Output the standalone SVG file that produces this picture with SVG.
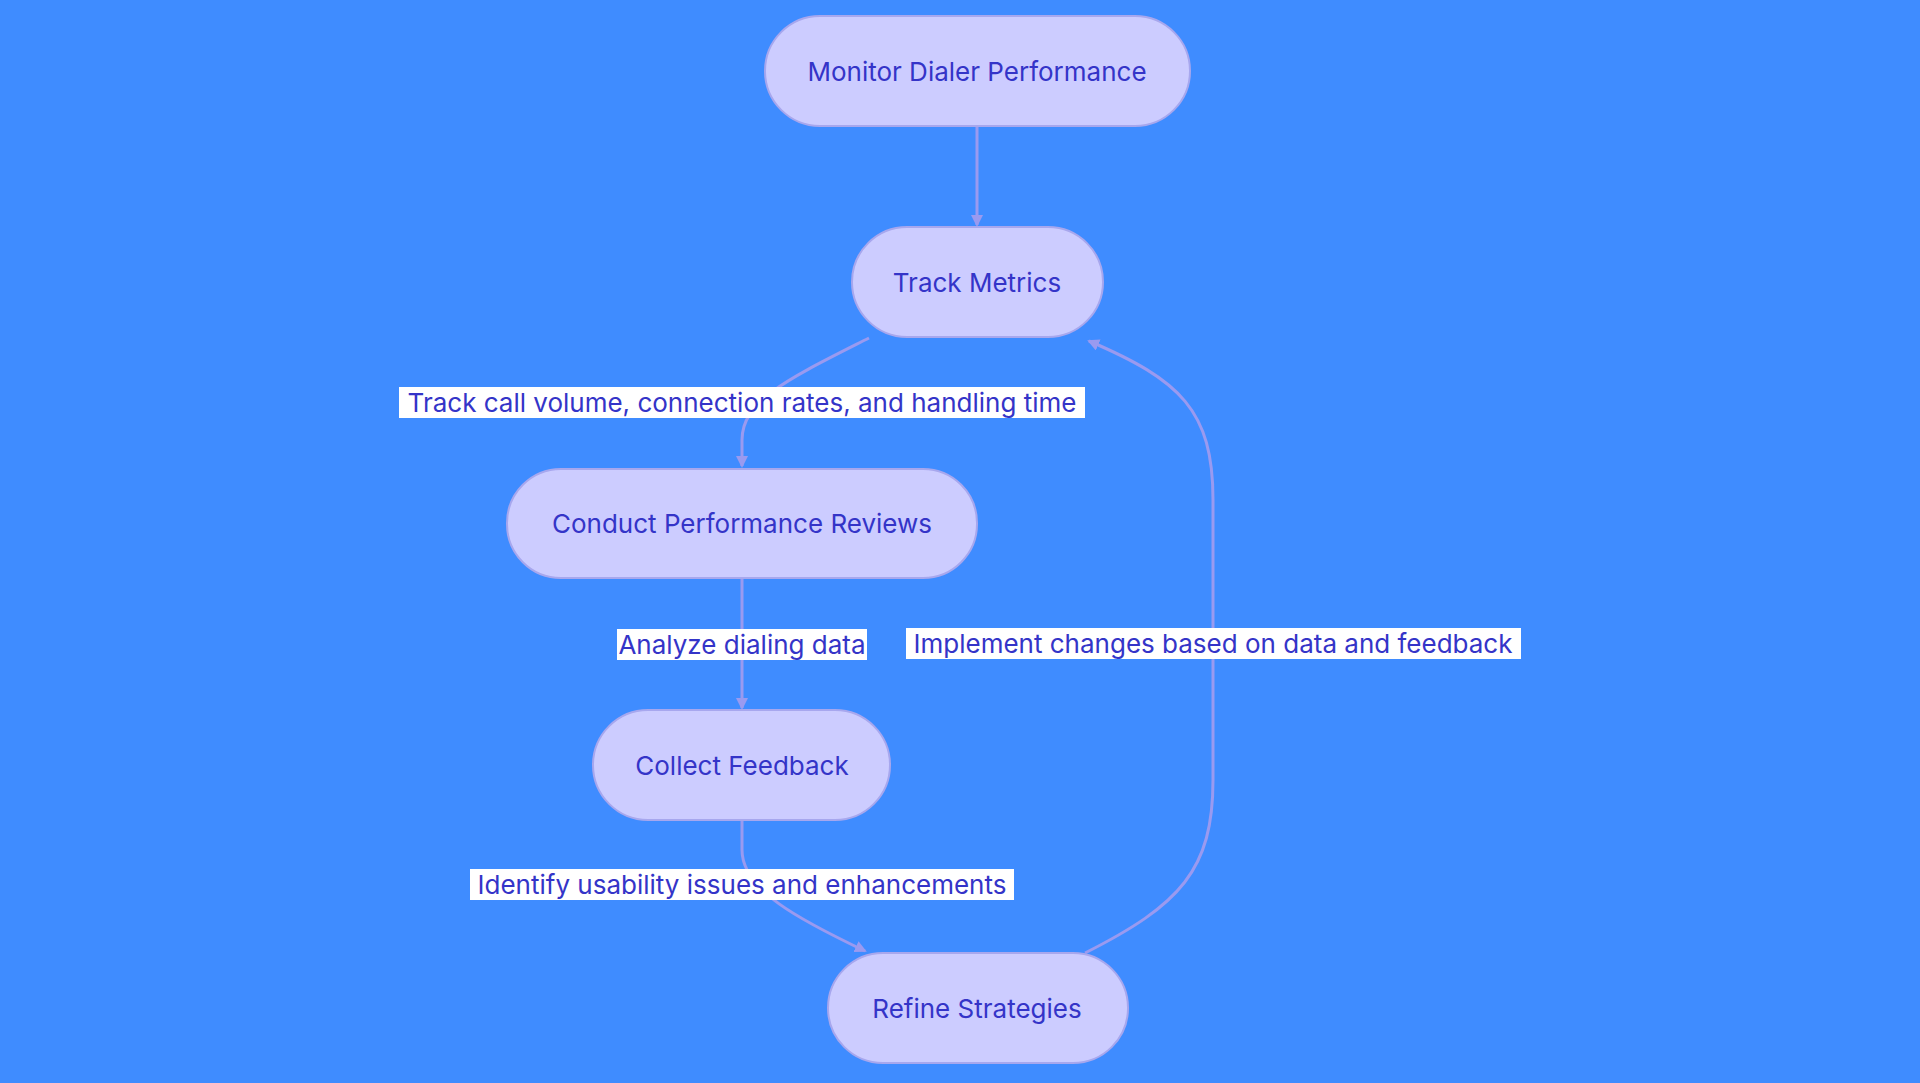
<svg xmlns="http://www.w3.org/2000/svg" width="1920" height="1083" viewBox="0 0 1920 1083">
<style>
.n{fill:#ccccff;stroke:#a7a7ee;stroke-width:2}
.t{font-family:Inter,"Open Sans",sans-serif;font-size:26px;fill:#3434c8;text-anchor:middle;dominant-baseline:central}
.e{fill:none;stroke:#9a9af0;stroke-width:3}
.lb{fill:#ffffff}
</style>
<defs><marker id="a" markerWidth="12" markerHeight="12" refX="10" refY="6" orient="auto" markerUnits="userSpaceOnUse" viewBox="0 0 12 12"><path d="M0,0 L12,6 L0,12 z" fill="#9a9af0"/></marker></defs>
<rect width="1920" height="1083" fill="#3f8cff"/>
<g id="connectors">
<path class="e" d="M977,126 L977,225" marker-end="url(#a)"/>
<path class="e" d="M869,338 C790,378 742,400 742,440 L742,466" marker-end="url(#a)"/>
<path class="e" d="M742,578 L742,708" marker-end="url(#a)"/>
<path class="e" d="M742,820 L742,850 C742,890 800,920 865,951" marker-end="url(#a)"/>
<path class="e" d="M1085,953 C1180,905 1213,870 1213,780 L1213,500 C1213,410 1180,380 1089,341" marker-end="url(#a)"/>
<rect class="lb" x="399" y="387" width="686" height="31"/><text class="t" x="742" y="402">Track call volume, connection rates, and handling time</text>
<rect class="lb" x="617" y="629" width="250" height="31"/><text class="t" x="742" y="644">Analyze dialing data</text>
<rect class="lb" x="906" y="628" width="615" height="31"/><text class="t" x="1213" y="643">Implement changes based on data and feedback</text>
<rect class="lb" x="470" y="869" width="544" height="31"/><text class="t" x="742" y="884">Identify usability issues and enhancements</text>
</g>
<g id="monitor"><rect class="n" x="765" y="16" width="425" height="110" rx="55"/><text class="t" x="977" y="71">Monitor Dialer Performance</text></g>
<g id="track"><rect class="n" x="852" y="227" width="251" height="110" rx="55"/><text class="t" x="977" y="282">Track Metrics</text></g>
<g id="conduct"><rect class="n" x="507" y="469" width="470" height="109" rx="54"/><text class="t" x="742" y="523">Conduct Performance Reviews</text></g>
<g id="collect"><rect class="n" x="593" y="710" width="297" height="110" rx="55"/><text class="t" x="742" y="765">Collect Feedback</text></g>
<g id="refine"><rect class="n" x="828" y="953" width="300" height="110" rx="55"/><text class="t" x="977" y="1008">Refine Strategies</text></g>
</svg>
